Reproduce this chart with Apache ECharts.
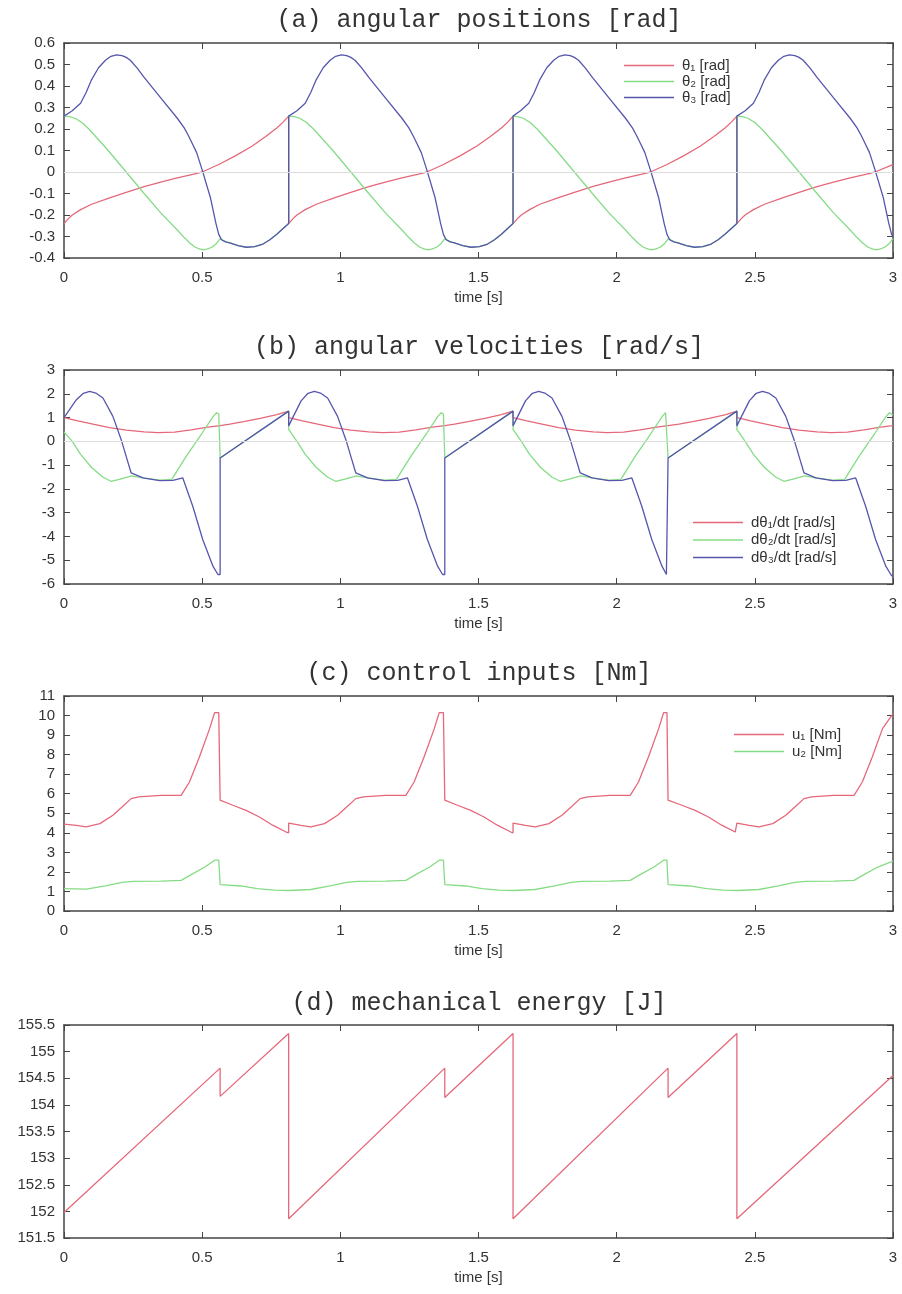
<!DOCTYPE html>
<html>
<head>
<meta charset="utf-8">
<script src="https://cdn.jsdelivr.net/npm/echarts@6/dist/echarts.min.js"></script>
<style>
html, body { margin: 0; background: #fff; }
#chart { width: 902px; height: 1294px; }
</style>
</head>
<body>
<div id="chart"></div>
<script>
// (a) angular positions, [t, rad]
const theta1 = [
  [0,-0.24],[0.015,-0.218],[0.03,-0.2],[0.06,-0.175],[0.1,-0.15],[0.165,-0.12],[0.225,-0.095],[0.29,-0.068],[0.35,-0.047],[0.41,-0.027],[0.47,-0.01],[0.5,0],[0.56,0.035],[0.62,0.075],[0.68,0.12],[0.73,0.165],[0.77,0.205],[0.793,0.232],[0.813,0.26],
  [0.813,-0.24],[0.828,-0.218],[0.843,-0.2],[0.873,-0.175],[0.913,-0.15],[0.978,-0.12],[1.038,-0.095],[1.103,-0.068],[1.163,-0.047],[1.223,-0.027],[1.283,-0.01],[1.313,0],[1.373,0.035],[1.433,0.075],[1.493,0.12],[1.543,0.165],[1.583,0.205],[1.606,0.232],[1.625,0.26],
  [1.625,-0.24],[1.64,-0.218],[1.655,-0.2],[1.685,-0.175],[1.722,-0.15],[1.787,-0.12],[1.847,-0.095],[1.912,-0.068],[1.972,-0.047],[2.032,-0.027],[2.092,-0.01],[2.122,0],[2.182,0.035],[2.242,0.075],[2.302,0.12],[2.352,0.165],[2.392,0.205],[2.415,0.232],[2.435,0.26],
  [2.435,-0.24],[2.45,-0.218],[2.465,-0.2],[2.495,-0.175],[2.535,-0.15],[2.6,-0.12],[2.66,-0.095],[2.725,-0.068],[2.785,-0.047],[2.845,-0.027],[2.905,-0.01],[2.935,0],[2.995,0.032],[3,0.034]
];
const theta2 = [
  [0,0.26],[0.02,0.258],[0.04,0.25],[0.065,0.23],[0.09,0.2],[0.16,0.1],[0.225,0],[0.29,-0.1],[0.35,-0.19],[0.41,-0.27],[0.435,-0.305],[0.455,-0.33],[0.475,-0.35],[0.49,-0.358],[0.505,-0.362],[0.52,-0.358],[0.535,-0.35],[0.55,-0.335],[0.565,-0.31],[0.57,-0.315],[0.585,-0.325],[0.6,-0.33],[0.63,-0.342],[0.66,-0.35],[0.69,-0.347],[0.72,-0.335],[0.745,-0.315],[0.77,-0.29],[0.813,-0.24],
  [0.813,0.26],[0.833,0.258],[0.853,0.25],[0.878,0.23],[0.903,0.2],[0.973,0.1],[1.038,0],[1.103,-0.1],[1.163,-0.19],[1.223,-0.27],[1.248,-0.305],[1.268,-0.33],[1.288,-0.35],[1.303,-0.358],[1.318,-0.362],[1.333,-0.358],[1.348,-0.35],[1.363,-0.335],[1.378,-0.31],[1.383,-0.315],[1.398,-0.325],[1.413,-0.33],[1.443,-0.342],[1.473,-0.35],[1.503,-0.347],[1.533,-0.335],[1.558,-0.315],[1.583,-0.29],[1.625,-0.24],
  [1.625,0.26],[1.642,0.258],[1.662,0.25],[1.687,0.23],[1.712,0.2],[1.782,0.1],[1.847,0],[1.912,-0.1],[1.972,-0.19],[2.032,-0.27],[2.057,-0.305],[2.077,-0.33],[2.097,-0.35],[2.112,-0.358],[2.127,-0.362],[2.142,-0.358],[2.157,-0.35],[2.172,-0.335],[2.187,-0.31],[2.192,-0.315],[2.207,-0.325],[2.222,-0.33],[2.252,-0.342],[2.282,-0.35],[2.312,-0.347],[2.342,-0.335],[2.367,-0.315],[2.392,-0.29],[2.435,-0.24],
  [2.435,0.26],[2.455,0.258],[2.475,0.25],[2.5,0.23],[2.525,0.2],[2.595,0.1],[2.66,0],[2.725,-0.1],[2.785,-0.19],[2.845,-0.27],[2.87,-0.305],[2.89,-0.33],[2.91,-0.35],[2.925,-0.358],[2.94,-0.362],[2.955,-0.358],[2.97,-0.35],[2.985,-0.335],[3,-0.31]
];
const theta3 = [
  [0,0.26],[0.03,0.285],[0.06,0.32],[0.08,0.37],[0.1,0.43],[0.125,0.485],[0.15,0.52],[0.17,0.538],[0.19,0.545],[0.21,0.541],[0.225,0.533],[0.24,0.52],[0.265,0.483],[0.29,0.44],[0.35,0.345],[0.41,0.25],[0.435,0.205],[0.45,0.17],[0.465,0.13],[0.48,0.09],[0.5,0.01],[0.53,-0.12],[0.55,-0.24],[0.56,-0.29],[0.57,-0.315],[0.585,-0.325],[0.6,-0.33],[0.63,-0.342],[0.66,-0.35],[0.69,-0.347],[0.72,-0.335],[0.745,-0.315],[0.77,-0.29],[0.813,-0.24],
  [0.813,0.26],[0.843,0.285],[0.873,0.32],[0.893,0.37],[0.913,0.43],[0.938,0.485],[0.963,0.52],[0.983,0.538],[1.003,0.545],[1.023,0.541],[1.038,0.533],[1.053,0.52],[1.078,0.483],[1.103,0.44],[1.163,0.345],[1.223,0.25],[1.248,0.205],[1.263,0.17],[1.278,0.13],[1.293,0.09],[1.313,0.01],[1.343,-0.12],[1.363,-0.24],[1.373,-0.29],[1.383,-0.315],[1.398,-0.325],[1.413,-0.33],[1.443,-0.342],[1.473,-0.35],[1.503,-0.347],[1.533,-0.335],[1.558,-0.315],[1.583,-0.29],[1.625,-0.24],
  [1.625,0.26],[1.652,0.285],[1.682,0.32],[1.702,0.37],[1.722,0.43],[1.747,0.485],[1.772,0.52],[1.792,0.538],[1.812,0.545],[1.832,0.541],[1.847,0.533],[1.862,0.52],[1.887,0.483],[1.912,0.44],[1.972,0.345],[2.032,0.25],[2.057,0.205],[2.072,0.17],[2.087,0.13],[2.102,0.09],[2.122,0.01],[2.152,-0.12],[2.172,-0.24],[2.182,-0.29],[2.192,-0.315],[2.207,-0.325],[2.222,-0.33],[2.252,-0.342],[2.282,-0.35],[2.312,-0.347],[2.342,-0.335],[2.367,-0.315],[2.392,-0.29],[2.435,-0.24],
  [2.435,0.26],[2.465,0.285],[2.495,0.32],[2.515,0.37],[2.535,0.43],[2.56,0.485],[2.585,0.52],[2.605,0.538],[2.625,0.545],[2.645,0.541],[2.66,0.533],[2.675,0.52],[2.7,0.483],[2.725,0.44],[2.785,0.345],[2.845,0.25],[2.87,0.205],[2.885,0.17],[2.9,0.13],[2.915,0.09],[2.935,0.01],[2.965,-0.12],[2.985,-0.24],[2.995,-0.29],[3,-0.3]
];

// (b) angular velocities, [t, rad/s]
const dtheta1 = [
  [0,1.0],[0.05,0.86],[0.105,0.72],[0.165,0.58],[0.225,0.47],[0.29,0.4],[0.34,0.37],[0.4,0.39],[0.46,0.48],[0.52,0.6],[0.565,0.66],[0.6,0.72],[0.65,0.83],[0.71,0.97],[0.77,1.12],[0.813,1.27],
  [0.813,1.0],[0.863,0.86],[0.918,0.72],[0.978,0.58],[1.038,0.47],[1.103,0.4],[1.153,0.37],[1.213,0.39],[1.273,0.48],[1.333,0.6],[1.378,0.66],[1.413,0.72],[1.463,0.83],[1.523,0.97],[1.583,1.12],[1.625,1.27],
  [1.625,1.0],[1.675,0.86],[1.73,0.72],[1.79,0.58],[1.85,0.47],[1.915,0.4],[1.965,0.37],[2.025,0.39],[2.085,0.48],[2.145,0.6],[2.186,0.66],[2.225,0.72],[2.275,0.83],[2.335,0.97],[2.395,1.12],[2.435,1.27],
  [2.435,1.0],[2.485,0.86],[2.54,0.72],[2.6,0.58],[2.66,0.47],[2.725,0.4],[2.775,0.37],[2.835,0.39],[2.895,0.48],[2.955,0.6],[3,0.66]
];
const dtheta2 = [
  [0,0.4],[0.03,0.0],[0.06,-0.55],[0.1,-1.1],[0.14,-1.5],[0.17,-1.68],[0.2,-1.6],[0.245,-1.45],[0.29,-1.55],[0.346,-1.63],[0.39,-1.6],[0.442,-0.63],[0.5,0.35],[0.54,1.05],[0.552,1.2],[0.56,1.15],[0.565,-0.7],[0.813,1.27],
  [0.813,0.5],[0.843,0.0],[0.873,-0.55],[0.913,-1.1],[0.953,-1.5],[0.983,-1.68],[1.013,-1.6],[1.058,-1.45],[1.103,-1.55],[1.159,-1.63],[1.203,-1.6],[1.255,-0.63],[1.313,0.35],[1.353,1.05],[1.365,1.2],[1.373,1.15],[1.378,-0.7],[1.625,1.27],
  [1.625,0.5],[1.655,0.0],[1.685,-0.55],[1.725,-1.1],[1.765,-1.5],[1.795,-1.68],[1.825,-1.6],[1.87,-1.45],[1.915,-1.55],[1.971,-1.63],[2.015,-1.6],[2.067,-0.63],[2.125,0.35],[2.165,1.05],[2.177,1.2],[2.183,1.15],[2.186,-0.7],[2.435,1.27],
  [2.435,0.5],[2.465,0.0],[2.495,-0.55],[2.535,-1.1],[2.575,-1.5],[2.605,-1.68],[2.635,-1.6],[2.68,-1.45],[2.725,-1.55],[2.781,-1.63],[2.825,-1.6],[2.877,-0.63],[2.935,0.35],[2.975,1.05],[2.987,1.2],[3,1.1]
];
const dtheta3 = [
  [0,1.0],[0.045,1.75],[0.07,2.02],[0.093,2.1],[0.115,2.03],[0.141,1.82],[0.177,1.05],[0.207,0.07],[0.225,-0.63],[0.243,-1.33],[0.286,-1.54],[0.346,-1.65],[0.394,-1.64],[0.43,-1.54],[0.466,-2.73],[0.502,-4.13],[0.539,-5.25],[0.557,-5.6],[0.565,-5.6],[0.565,-0.7],[0.813,1.27],
  [0.813,0.65],[0.83,1.05],[0.858,1.7],[0.883,2.02],[0.906,2.1],[0.928,2.03],[0.954,1.82],[0.99,1.05],[1.02,0.07],[1.038,-0.63],[1.056,-1.33],[1.099,-1.54],[1.159,-1.65],[1.207,-1.64],[1.243,-1.54],[1.279,-2.73],[1.315,-4.13],[1.352,-5.25],[1.37,-5.6],[1.378,-5.6],[1.378,-0.7],[1.625,1.27],
  [1.625,0.65],[1.642,1.05],[1.67,1.7],[1.695,2.02],[1.718,2.1],[1.74,2.03],[1.766,1.82],[1.802,1.05],[1.832,0.07],[1.85,-0.63],[1.868,-1.33],[1.911,-1.54],[1.971,-1.65],[2.019,-1.64],[2.055,-1.54],[2.091,-2.73],[2.127,-4.13],[2.164,-5.25],[2.18,-5.6],[2.186,-5.6],[2.186,-0.7],[2.435,1.27],
  [2.435,0.65],[2.452,1.05],[2.48,1.7],[2.505,2.02],[2.528,2.1],[2.55,2.03],[2.576,1.82],[2.612,1.05],[2.642,0.07],[2.66,-0.63],[2.678,-1.33],[2.721,-1.54],[2.781,-1.65],[2.829,-1.64],[2.865,-1.54],[2.901,-2.73],[2.937,-4.13],[2.974,-5.25],[2.992,-5.6],[3,-5.7]
];

// (c) control inputs, [t, Nm]
const u1 = [
  [0,4.45],[0.045,4.38],[0.08,4.3],[0.13,4.47],[0.177,4.9],[0.21,5.32],[0.243,5.75],[0.27,5.84],[0.35,5.92],[0.424,5.92],[0.454,6.6],[0.49,7.88],[0.527,9.33],[0.545,10.15],[0.56,10.15],[0.565,5.67],[0.611,5.41],[0.659,5.15],[0.707,4.81],[0.755,4.39],[0.804,4.04],[0.813,4.0],
  [0.813,4.5],[0.858,4.38],[0.893,4.3],[0.943,4.47],[0.99,4.9],[1.023,5.32],[1.056,5.75],[1.083,5.84],[1.163,5.92],[1.237,5.92],[1.267,6.6],[1.303,7.88],[1.34,9.33],[1.358,10.15],[1.373,10.15],[1.378,5.67],[1.424,5.41],[1.472,5.15],[1.52,4.81],[1.568,4.39],[1.617,4.04],[1.625,4.0],
  [1.625,4.5],[1.67,4.38],[1.705,4.3],[1.755,4.47],[1.802,4.9],[1.835,5.32],[1.868,5.75],[1.895,5.84],[1.975,5.92],[2.049,5.92],[2.079,6.6],[2.115,7.88],[2.152,9.33],[2.17,10.15],[2.182,10.15],[2.186,5.67],[2.236,5.41],[2.284,5.15],[2.332,4.81],[2.38,4.39],[2.429,4.04],[2.435,4.0],
  [2.435,4.5],[2.48,4.38],[2.515,4.3],[2.565,4.47],[2.612,4.9],[2.645,5.32],[2.678,5.75],[2.705,5.84],[2.785,5.92],[2.859,5.92],[2.889,6.6],[2.925,7.88],[2.962,9.33],[3,10.1]
];
const u2 = [
  [0,1.14],[0.08,1.12],[0.15,1.28],[0.21,1.46],[0.25,1.52],[0.35,1.53],[0.424,1.57],[0.46,1.86],[0.51,2.25],[0.545,2.6],[0.56,2.6],[0.565,1.35],[0.64,1.28],[0.7,1.15],[0.76,1.07],[0.813,1.05],
  [0.813,1.1],[0.893,1.1],[0.963,1.28],[1.023,1.46],[1.063,1.52],[1.163,1.53],[1.237,1.57],[1.273,1.86],[1.323,2.25],[1.358,2.6],[1.373,2.6],[1.378,1.35],[1.453,1.28],[1.513,1.15],[1.573,1.07],[1.625,1.05],
  [1.625,1.1],[1.705,1.1],[1.775,1.28],[1.835,1.46],[1.875,1.52],[1.975,1.53],[2.049,1.57],[2.085,1.86],[2.135,2.25],[2.17,2.6],[2.182,2.6],[2.186,1.35],[2.265,1.28],[2.325,1.15],[2.385,1.07],[2.435,1.05],
  [2.435,1.1],[2.515,1.1],[2.585,1.28],[2.645,1.46],[2.685,1.52],[2.785,1.53],[2.859,1.57],[2.895,1.86],[2.945,2.25],[3,2.55]
];

// (d) mechanical energy, [t, J]
const energy = [
  [0,151.98],[0.565,154.69],[0.565,154.16],[0.813,155.34],[0.813,151.86],
  [1.378,154.69],[1.378,154.14],[1.625,155.34],[1.625,151.86],
  [2.186,154.69],[2.186,154.14],[2.435,155.34],[2.435,151.86],
  [3,154.55]
];

const titles = ['(a) angular positions [rad]', '(b) angular velocities [rad/s]', '(c) control inputs [Nm]', '(d) mechanical energy [J]'];
const yRanges = [[-0.4, 0.6, 0.1], [-6, 3, 1], [0, 11, 1], [151.5, 155.5, 0.5]];
const timeTicks = [0, 3, 0.5];

const RED = '#e5687a', GREEN = '#86dc86', BLUE = '#5656ad';
const FRAME = '#444';
const SANS = '"Liberation Sans", Arial, sans-serif';
const MONO = '"Liberation Mono", "DejaVu Sans Mono", monospace';

const grids = [
  { left: 64, right: 9, top: 43, height: 215 },
  { left: 64, right: 9, top: 370, height: 214 },
  { left: 64, right: 9, top: 696, height: 215 },
  { left: 64, right: 9, top: 1025, height: 213 }
];
const titleY = [20, 347, 673, 1003];

const xAxis = [], yAxis = [];
grids.forEach((g, i) => {
  const tickStyle = { show: true, inside: true, length: 6, lineStyle: { color: FRAME, width: 1 } };
  const lineStyle = { show: true, onZero: false, lineStyle: { color: FRAME, width: 1.5 } };
  xAxis.push({
    type: 'value', gridIndex: i, min: timeTicks[0], max: timeTicks[1], interval: timeTicks[2],
    position: 'bottom', axisLine: lineStyle, axisTick: tickStyle, splitLine: { show: false },
    axisLabel: { margin: 12, color: '#333', fontSize: 15, fontFamily: SANS },
    name: 'time [s]', nameLocation: 'middle', nameGap: 32,
    nameTextStyle: { color: '#333', fontSize: 15, fontFamily: SANS }
  });
  xAxis.push({
    type: 'value', gridIndex: i, min: timeTicks[0], max: timeTicks[1], interval: timeTicks[2],
    position: 'top', axisLine: lineStyle, axisTick: tickStyle, splitLine: { show: false },
    axisLabel: { show: false }
  });
  const r = yRanges[i];
  yAxis.push({
    type: 'value', gridIndex: i, min: r[0], max: r[1], interval: r[2],
    position: 'left', axisLine: lineStyle, axisTick: tickStyle, splitLine: { show: false },
    axisLabel: { margin: 9, color: '#333', fontSize: 15, fontFamily: SANS }
  });
  yAxis.push({
    type: 'value', gridIndex: i, min: r[0], max: r[1], interval: r[2],
    position: 'right', axisLine: lineStyle, axisTick: tickStyle, splitLine: { show: false },
    axisLabel: { show: false }
  });
});

function lineSeries(name, data, color, panel, extra) {
  return Object.assign({
    name: name, type: 'line', data: data,
    xAxisIndex: panel * 2, yAxisIndex: panel * 2,
    symbol: 'none', showSymbol: false, animation: false,
    lineStyle: { color: color, width: 1.3 }, itemStyle: { color: color }
  }, extra || {});
}

// gnuplot style zero axis
const zeroLine = {
  markLine: {
    silent: true, symbol: ['none', 'none'], label: { show: false },
    lineStyle: { color: '#dcdcdc', width: 1, type: 'solid' },
    data: [{ yAxis: 0 }]
  }
};

const series = [
  lineSeries('θ₁ [rad]', theta1, RED, 0, zeroLine),
  lineSeries('θ₂ [rad]', theta2, GREEN, 0),
  lineSeries('θ₃ [rad]', theta3, BLUE, 0),
  lineSeries('dθ₁/dt [rad/s]', dtheta1, RED, 1, zeroLine),
  lineSeries('dθ₂/dt [rad/s]', dtheta2, GREEN, 1),
  lineSeries('dθ₃/dt [rad/s]', dtheta3, BLUE, 1),
  lineSeries('u₁ [Nm]', u1, RED, 2),
  lineSeries('u₂ [Nm]', u2, GREEN, 2),
  lineSeries('energy', energy, RED, 3)
];

function legendAt(names, left, top, gap) {
  return {
    data: names, orient: 'vertical', left: left, top: top, padding: 0,
    icon: 'rect', itemWidth: 50, itemHeight: 1.5, itemGap: gap, selectedMode: false,
    textStyle: { color: '#333', fontSize: 15, fontFamily: SANS, padding: [0, 0, 0, 3] }
  };
}

const option = {
  backgroundColor: '#fff',
  animation: false,
  grid: grids,
  xAxis: xAxis,
  yAxis: yAxis,
  legend: [
    legendAt(['θ₁ [rad]', 'θ₂ [rad]', 'θ₃ [rad]'], 624, 58, 1),
    legendAt(['dθ₁/dt [rad/s]', 'dθ₂/dt [rad/s]', 'dθ₃/dt [rad/s]'], 693, 515, 2.5),
    legendAt(['u₁ [Nm]', 'u₂ [Nm]'], 734, 727, 2)
  ],
  graphic: titles.map((t, i) => ({
    type: 'text', x: 479, y: titleY[i],
    style: { text: t, fill: '#333', font: '25px ' + MONO, textAlign: 'center', textVerticalAlign: 'middle' }
  })),
  series: series
};

const chart = echarts.init(document.getElementById('chart'), null, { renderer: 'canvas' });
chart.setOption(option);
</script>
</body>
</html>
